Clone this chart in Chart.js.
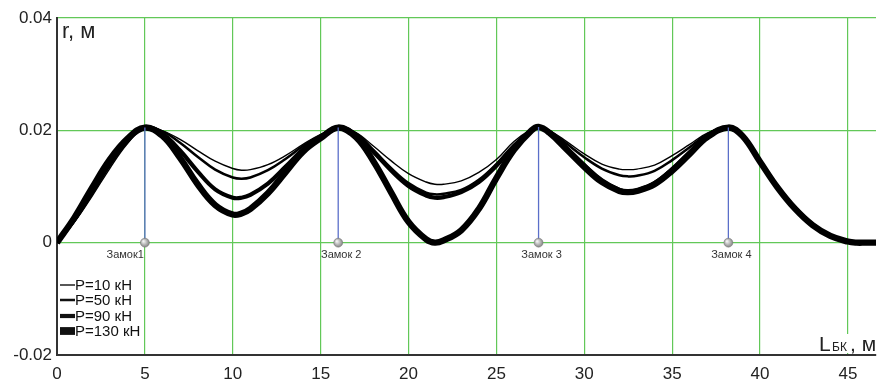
<!DOCTYPE html>
<html>
<head>
<meta charset="utf-8">
<script src="https://cdn.jsdelivr.net/npm/chart.js@4"></script>
<style>
  html, body { margin: 0; padding: 0; background: #fff; }
  canvas { display: block; }
</style>
</head>
<body>
<canvas id="chart" width="881" height="383"></canvas>
<script>
// ----------------- DATA -----------------
const xPos = [0, 1, 2, 3, 4, 5, 6, 7, 8, 9, 10, 10.5, 11, 12, 13, 14, 15, 16, 17, 18, 19, 20, 21, 21.5,
  22, 23, 24, 25, 26, 27, 27.4, 28, 29, 30, 31, 32, 32.5, 33, 34, 35, 36, 37, 38.2, 39, 40, 41, 42, 43, 44, 45, 45.5, 46, 46.6];

const p10 = [0, 0.0037, 0.0083, 0.0132, 0.0176, 0.0205, 0.0199, 0.0184, 0.0164, 0.0145, 0.0132, 0.0129, 0.0130,
  0.0139, 0.0155, 0.0175, 0.0193, 0.0205, 0.0196, 0.0172, 0.0146, 0.0123, 0.0108, 0.0104, 0.0104, 0.0110, 0.0125,
  0.0148, 0.0180, 0.0202, 0.0206, 0.0200, 0.0180, 0.0158, 0.0140, 0.0131, 0.0130, 0.0131, 0.0138, 0.0155, 0.0175,
  0.0195, 0.0205, 0.0191, 0.0147, 0.0101, 0.0063, 0.0033, 0.0013, 0.0003, 0, 0, 0];

const p50 = [0, 0.0039, 0.0087, 0.0137, 0.0179, 0.0205, 0.0198, 0.0178, 0.0153, 0.0130, 0.0116, 0.0114, 0.0116,
  0.0129, 0.0149, 0.0172, 0.0191, 0.0205, 0.0194, 0.0165, 0.0133, 0.0106, 0.0089, 0.0086, 0.0087, 0.0094, 0.0112,
  0.0140, 0.0174, 0.0201, 0.0206, 0.0199, 0.0176, 0.0152, 0.0132, 0.0120, 0.0118, 0.0119, 0.0128, 0.0147, 0.0170,
  0.0193, 0.0205, 0.0191, 0.0146, 0.0100, 0.0062, 0.0033, 0.0013, 0.0003, 0, 0, 0];

const p90 = [0, 0.0042, 0.0092, 0.0142, 0.0182, 0.0205, 0.0194, 0.0164, 0.0127, 0.0095, 0.0080, 0.0080, 0.0085,
  0.0105, 0.0135, 0.0166, 0.0188, 0.0205, 0.0193, 0.0162, 0.0129, 0.0101, 0.0084, 0.0080, 0.0081, 0.0090, 0.0108,
  0.0137, 0.0172, 0.0200, 0.0206, 0.0197, 0.0168, 0.0138, 0.0111, 0.0094, 0.0091, 0.0093, 0.0106, 0.0131, 0.0161,
  0.0190, 0.0205, 0.0190, 0.0145, 0.0099, 0.0061, 0.0032, 0.0012, 0.0003, 0, 0, 0];

const p130 = [0, 0.0045, 0.0098, 0.0148, 0.0185, 0.0205, 0.0190, 0.0151, 0.0104, 0.0067, 0.0050, 0.0052, 0.0060,
  0.0088, 0.0125, 0.0162, 0.0186, 0.0205, 0.0188, 0.0145, 0.0090, 0.0037, 0.0006, 0, 0.0004, 0.0022, 0.0060,
  0.0115, 0.0165, 0.0200, 0.0206, 0.0196, 0.0166, 0.0135, 0.0108, 0.0092, 0.0090, 0.0092, 0.0104, 0.0128, 0.0158,
  0.0188, 0.0205, 0.0190, 0.0144, 0.0098, 0.0060, 0.0031, 0.0012, 0.0002, 0, 0, 0];

const seriesLabels = ['P=10 кН', 'P=50 кН', 'P=90 кН', 'P=130 кН'];

const lockX = [5, 16, 27.4, 38.2];
const lockTop = [0.0205, 0.0205, 0.0206, 0.0205];
const lockLabels = ['Замок1', 'Замок 2', 'Замок 3', 'Замок 4'];

const xTicks = [0, 5, 10, 15, 20, 25, 30, 35, 40, 45];
const yTicks = [-0.02, 0, 0.02, 0.04];

// ----------------- STYLE -----------------
const GREEN = 'rgb(98, 200, 88)';
const widths = [1.4, 2.5, 4.2, 6.3];

Chart.defaults.font.family = '"Liberation Sans", Arial, sans-serif';

function toPoints(ys) {
  return xPos.map((x, i) => ({ x: x, y: ys[i] }));
}

const curveSets = [p10, p50, p90, p130].map((ys, i) => ({
  label: seriesLabels[i],
  data: toPoints(ys),
  borderColor: '#000',
  borderWidth: widths[i],
  pointRadius: 0,
  tension: 0.4,
  fill: false
}));

const lockLines = lockX.map((x, i) => ({
  label: 'lock' + i,
  data: [{ x: x, y: 0 }, { x: x, y: lockTop[i] }],
  borderColor: '#5b6fc9',
  borderWidth: 1.3,
  pointRadius: 0
}));

const spheres = {
  label: 'spheres',
  type: 'scatter',
  data: lockX.map(x => ({ x: x, y: 0 })),
  pointRadius: 4.5,
  borderWidth: 0.5,
  borderColor: '#777',
  backgroundColor: function (c) {
    const ch = c.chart;
    if (!ch.chartArea || !c.raw) return '#aaa';
    const px = ch.scales.x.getPixelForValue(c.raw.x);
    const py = ch.scales.y.getPixelForValue(c.raw.y);
    const g = ch.ctx.createRadialGradient(px - 1.5, py - 1.5, 0.5, px, py, 5);
    g.addColorStop(0, '#f2f2f2');
    g.addColorStop(1, '#7a7a7a');
    return g;
  }
};

// ----------------- TEXT OVERLAY -----------------
const overlay = {
  id: 'overlay',
  afterDatasetsDraw(chart) {
    const ctx = chart.ctx;
    const xs = chart.scales.x, ys = chart.scales.y;
    const area = chart.chartArea;
    ctx.save();

    // lock labels
    ctx.font = '11px "Liberation Sans", Arial, sans-serif';
    ctx.fillStyle = '#333';
    ctx.textBaseline = 'alphabetic';
    lockX.forEach((x, i) => {
      const px = xs.getPixelForValue(x);
      const py = ys.getPixelForValue(0);
      ctx.textAlign = i === 0 ? 'right' : 'center';
      ctx.fillText(lockLabels[i], i === 0 ? px - 1 : px + 3, py + 15);
    });

    // legend
    ctx.font = '15px "Liberation Sans", Arial, sans-serif';
    ctx.textAlign = 'left';
    ctx.textBaseline = 'middle';
    const rowY = [285, 300, 316, 331];
    chart.data.datasets.filter(d => seriesLabels.includes(d.label)).forEach((d, i) => {
      ctx.fillStyle = '#111';
      const h = d.borderWidth + (i === 3 ? 1.5 : 0);
      ctx.fillRect(area.left + 3, rowY[i] - h / 2, 15, h);
      ctx.fillText(d.label, area.left + 18, rowY[i] + 1);
    });

    // axis titles
    ctx.fillStyle = '#222';
    ctx.textBaseline = 'alphabetic';
    ctx.font = '22px "Liberation Sans", Arial, sans-serif';
    ctx.fillText('r, м', area.left + 5, 38);

    ctx.fillStyle = '#fff';
    ctx.fillRect(817, 334, 62, 19);
    ctx.fillStyle = '#222';
    ctx.font = '21px "Liberation Sans", Arial, sans-serif';
    ctx.fillText('L', 819, 351);
    ctx.font = '12px "Liberation Sans", Arial, sans-serif';
    ctx.fillText('БК', 832, 351);
    ctx.font = '21px "Liberation Sans", Arial, sans-serif';
    ctx.fillText(', м', 850, 351);

    ctx.restore();
  }
};

// ----------------- CHART -----------------
new Chart(document.getElementById('chart'), {
  type: 'line',
  data: { datasets: [spheres, ...lockLines, ...curveSets] },
  options: {
    responsive: false,
    animation: false,
    layout: { padding: { top: 18, right: 1, left: 0, bottom: 0 } },
    plugins: { legend: { display: false }, tooltip: { enabled: false } },
    scales: {
      x: {
        type: 'linear',
        min: 0,
        max: 46.6,
        afterBuildTicks: s => { s.ticks = xTicks.map(v => ({ value: v })); },
        afterFit: s => { s.height = 28; },
        grid: { color: GREEN, lineWidth: 1.2, drawTicks: false },
        border: { color: '#333', width: 2 },
        ticks: { padding: 9, color: '#222', font: { size: 17 }, maxRotation: 0, autoSkip: false }
      },
      y: {
        type: 'linear',
        min: -0.02,
        max: 0.04,
        afterBuildTicks: s => { s.ticks = yTicks.map(v => ({ value: v })); },
        afterFit: s => { s.width = 57; },
        grid: { color: GREEN, lineWidth: 1.2, drawTicks: false },
        border: { color: '#333', width: 2 },
        ticks: {
          padding: 5,
          color: '#222',
          font: { size: 17 },
          callback: v => (v === 0 ? '0' : v.toFixed(2))
        }
      }
    }
  },
  plugins: [overlay]
});
</script>
</body>
</html>
